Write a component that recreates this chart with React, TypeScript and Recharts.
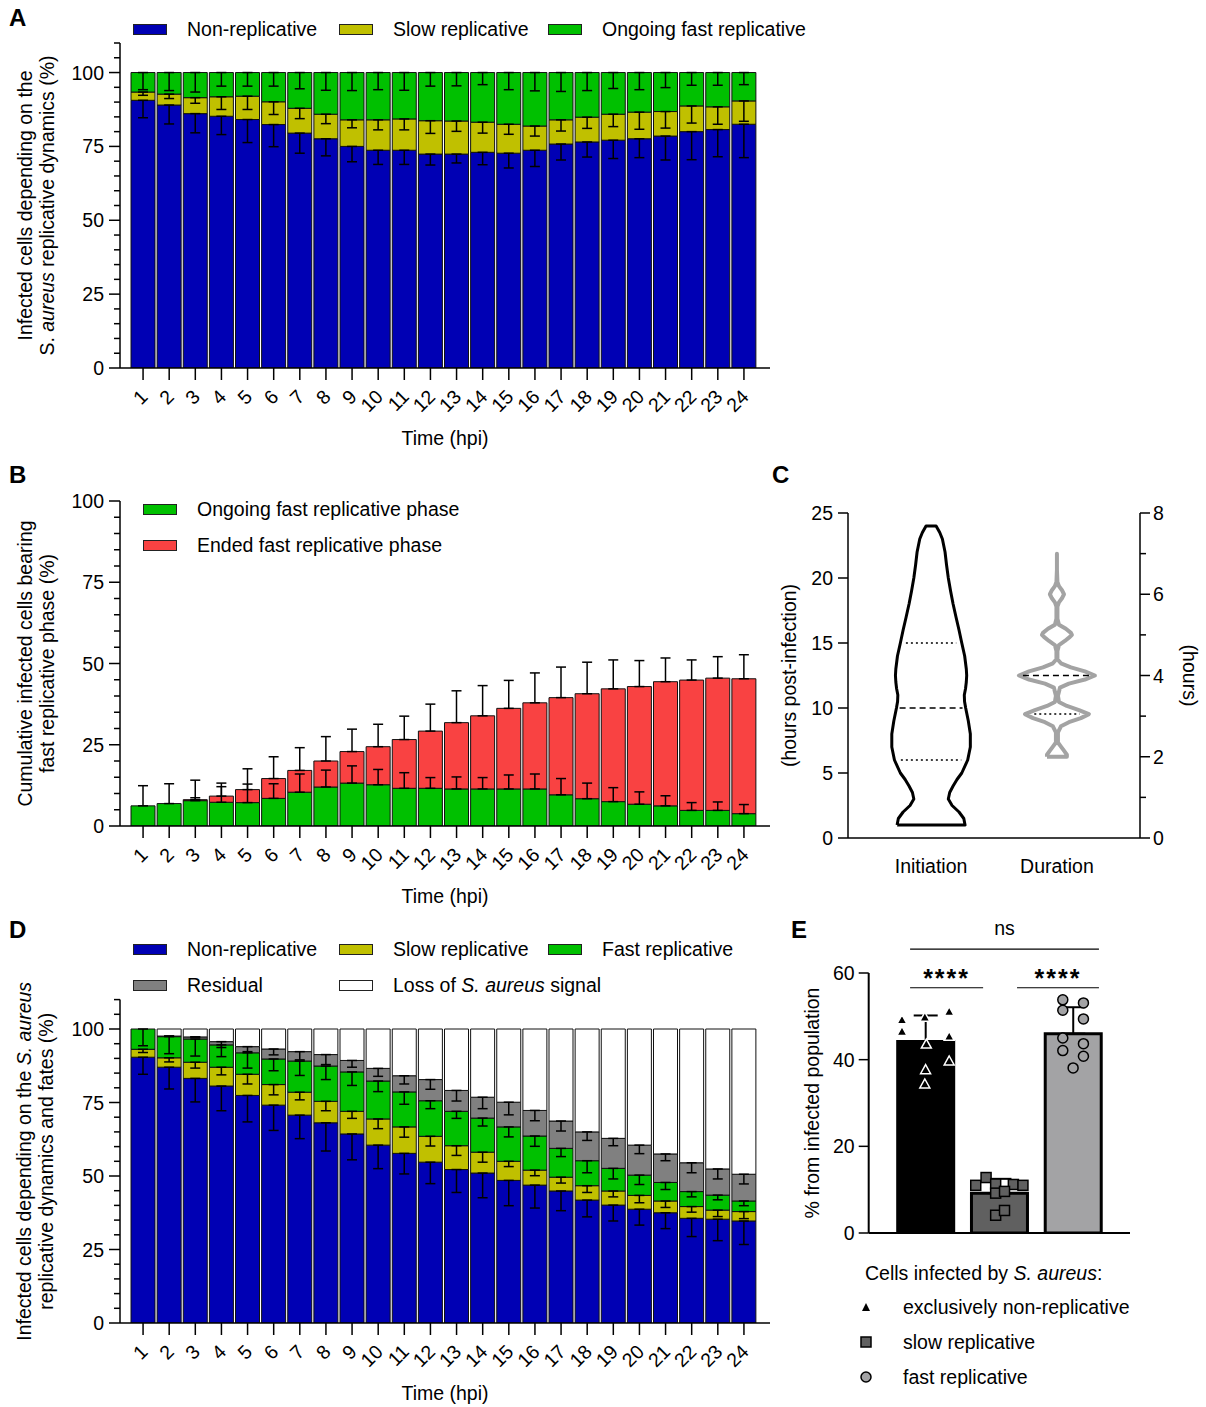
import React from "react";
import {
  BarChart,
  Bar,
  XAxis,
  YAxis,
  ErrorBar,
  ComposedChart,
  Scatter,
  ReferenceLine,
  Cell,
} from "recharts";

const FONT = '"Liberation Sans", Arial, Helvetica, sans-serif';
const FS = 19.5;
const BLUE = "#0000b4";
const YELLOW = "#c0c000";
const GREEN = "#00c000";
const RED = "#f94242";
const GRAY = "#808080";
const AXIS = { stroke: "#000", strokeWidth: 1.5 };

const HOURS = ["1", "2", "3", "4", "5", "6", "7", "8", "9", "10", "11", "12", "13", "14", "15", "16", "17", "18", "19", "20", "21", "22", "23", "24"];
const TICKS_110 = [0, 5, 10, 15, 20, 25, 30, 35, 40, 45, 50, 55, 60, 65, 70, 75, 80, 85, 90, 95, 100, 105, 110];
const TICKS_100 = [0, 5, 10, 15, 20, 25, 30, 35, 40, 45, 50, 55, 60, 65, 70, 75, 80, 85, 90, 95, 100];
const MAJOR_PCT = [0, 25, 50, 75, 100];

// A: replicative dynamics (%)
const A_NONREP = [90.6, 89.0, 86.1, 85.2, 84.1, 82.4, 79.5, 77.6, 75.0, 73.7, 73.7, 72.4, 72.4, 73.0, 72.7, 73.7, 75.8, 76.5, 77.1, 77.6, 78.5, 80.0, 80.7, 82.5];
const A_SLOW = [2.8, 3.7, 5.4, 6.6, 7.9, 7.7, 8.4, 8.3, 9.0, 10.3, 10.6, 11.3, 11.2, 10.2, 9.8, 8.2, 8.2, 8.4, 8.8, 9.0, 8.3, 8.7, 7.7, 7.9];
const A_FAST = [6.6, 7.3, 8.5, 8.2, 8.0, 9.9, 12.1, 14.1, 16.0, 16.0, 15.7, 16.3, 16.4, 16.8, 17.5, 18.1, 16.0, 15.1, 14.1, 13.4, 13.2, 11.3, 11.6, 9.6];
const A_NONREP_ERR = [5.9, 6.4, 6.5, 6.2, 7.8, 7.5, 6.8, 5.8, 5.2, 4.8, 4.8, 3.7, 3.0, 4.2, 5.0, 5.5, 5.4, 5.1, 6.2, 6.4, 8.1, 9.5, 9.2, 11.3];
const A_SLOW_ERR = [1.1, 1.5, 1.9, 4.3, 4.5, 4.3, 3.5, 3.2, 2.7, 3.4, 3.7, 4.3, 3.5, 3.7, 3.4, 3.4, 3.8, 3.8, 4.2, 5.8, 5.6, 5.8, 5.9, 6.9];
const A_FAST_ERR = [5.8, 6.1, 6.6, 4.6, 4.6, 4.6, 5.5, 6.0, 6.1, 5.8, 6.0, 4.6, 4.5, 4.1, 5.8, 6.2, 6.4, 6.1, 5.4, 5.8, 5.1, 4.3, 4.3, 4.1];

// B: cumulative fast replicative phase (%)
const B_ONGOING = [6.2, 6.9, 7.8, 7.3, 7.2, 8.5, 10.4, 12.0, 13.2, 12.7, 11.6, 11.6, 11.4, 11.4, 11.4, 11.4, 9.6, 8.4, 7.5, 6.7, 6.2, 4.8, 4.8, 3.8];
const B_ENDED = [0, 0, 0.3, 1.9, 4.0, 6.1, 6.7, 8.0, 9.7, 11.7, 15.0, 17.6, 20.4, 22.5, 24.8, 26.5, 29.9, 32.3, 34.7, 36.2, 38.2, 40.1, 40.7, 41.5];
const B_ONGOING_ERR = [6.2, 6.1, 6.3, 4.8, 5.7, 4.5, 5.6, 5.2, 5.3, 4.7, 4.8, 3.3, 3.7, 3.5, 4.3, 4.6, 5.0, 4.8, 4.3, 3.8, 3.1, 2.4, 2.6, 2.8];
const B_ENDED_ERR = [0, 0, 0.6, 4.0, 6.4, 6.7, 7.0, 7.5, 6.9, 6.9, 7.2, 8.3, 9.8, 9.3, 8.6, 9.2, 9.4, 9.7, 8.9, 8.0, 7.3, 6.2, 6.6, 7.4];

// C: violins (half-widths in category units)
const C_CATS = ["Initiation", "Duration"];
const C_LEFT_TICKS = [0, 5, 10, 15, 20, 25];
const C_RIGHT_TICKS = [0, 1, 2, 3, 4, 5, 6, 7, 8];
const C_RIGHT_MAJOR = [0, 2, 4, 6, 8];
const INIT_H = [1, 1.5, 2, 2.5, 3, 3.5, 4, 4.5, 5, 6, 7, 8, 9, 10, 10.5, 11, 11.5, 12, 12.5, 13, 14, 15, 16, 17, 18, 19, 20, 21, 22, 23, 23.5, 24];
const INIT_W = [0.27, 0.26, 0.222, 0.167, 0.137, 0.148, 0.175, 0.206, 0.244, 0.291, 0.312, 0.312, 0.296, 0.275, 0.266, 0.264, 0.274, 0.28, 0.283, 0.28, 0.267, 0.244, 0.222, 0.198, 0.175, 0.155, 0.137, 0.123, 0.111, 0.09, 0.069, 0.04];
const INIT_Q = [
  { h: 6, w: 0.24, dash: "2 3" },
  { h: 10, w: 0.25, dash: "6 4" },
  { h: 15, w: 0.2, dash: "2 3" },
];
const DUR_H = [2.0, 2.05, 2.15, 2.25, 2.35, 2.6, 2.75, 2.85, 2.95, 3.05, 3.15, 3.25, 3.35, 3.5, 3.7, 3.8, 3.9, 4.0, 4.1, 4.2, 4.3, 4.4, 4.6, 4.75, 4.85, 4.95, 5.0, 5.05, 5.15, 5.25, 5.4, 5.7, 5.8, 5.9, 6.0, 6.1, 6.2, 6.3, 6.6, 7.0];
const DUR_W = [0.079, 0.079, 0.056, 0.032, 0.008, 0.008, 0.032, 0.095, 0.19, 0.254, 0.175, 0.079, 0.016, 0.008, 0.024, 0.095, 0.222, 0.302, 0.222, 0.111, 0.032, 0.004, 0.004, 0.016, 0.063, 0.103, 0.119, 0.111, 0.071, 0.016, 0.004, 0.004, 0.016, 0.04, 0.056, 0.04, 0.016, 0.004, 0, 0];
const DUR_Q = [
  { h: 3.05, w: 0.18, dash: "2 3" },
  { h: 4.0, w: 0.27, dash: "6 4" },
];

// D: dynamics and fates (%)
const D_NONREP = [90.4, 87.0, 83.2, 80.6, 77.4, 74.1, 70.7, 68.1, 64.3, 60.5, 57.7, 54.7, 52.2, 51.0, 48.5, 46.9, 44.9, 41.8, 40.1, 38.7, 37.5, 35.6, 35.3, 34.7];
const D_SLOW = [2.7, 3.2, 5.5, 6.4, 7.2, 7.0, 7.8, 7.3, 7.7, 8.9, 9.0, 8.8, 8.1, 7.1, 6.5, 5.1, 4.7, 4.9, 4.8, 4.7, 4.0, 4.0, 3.1, 3.2];
const D_FAST = [6.9, 7.2, 7.9, 7.6, 7.3, 8.7, 10.6, 12.0, 13.4, 12.9, 11.9, 12.1, 11.7, 11.6, 11.7, 11.6, 9.8, 8.5, 7.7, 6.9, 6.3, 5.1, 5.1, 3.6];
const D_RESIDUAL = [0, 0.2, 0.7, 1.1, 2.1, 3.4, 3.2, 3.9, 3.9, 4.3, 5.5, 7.2, 7.1, 7.1, 8.4, 8.7, 9.3, 9.8, 10.2, 10.2, 9.7, 9.8, 8.9, 9.1];
const D_LOSS = [0, 2.4, 2.7, 4.3, 6.0, 6.8, 7.7, 8.7, 10.7, 13.4, 15.9, 17.2, 20.9, 23.2, 24.9, 27.7, 31.3, 35.0, 37.2, 39.5, 42.5, 45.5, 47.6, 49.4];
const D_NONREP_ERR = [5.8, 7.4, 8.0, 8.4, 9.0, 8.6, 8.0, 9.6, 8.8, 8.0, 7.0, 7.3, 7.8, 8.4, 8.6, 7.8, 6.7, 5.7, 5.4, 5.4, 5.4, 6.2, 7.3, 8.0];
const D_SLOW_ERR = [1.1, 1.4, 2.0, 2.6, 3.3, 3.5, 2.6, 3.2, 2.4, 3.3, 3.5, 3.3, 3.3, 3.4, 1.8, 1.9, 2.0, 2.3, 2.0, 2.5, 2.2, 1.9, 2.2, 2.4];
const D_FAST_ERR = [5.7, 5.8, 5.8, 4.0, 5.2, 4.0, 4.9, 4.6, 4.6, 3.6, 4.2, 2.7, 2.4, 2.7, 3.4, 3.5, 2.8, 4.1, 3.6, 3.2, 2.4, 1.8, 1.6, 1.6];
const D_RESIDUAL_ERR = [0, 0, 0, 2.0, 1.7, 2.0, 2.8, 3.4, 2.3, 2.7, 2.8, 3.3, 3.6, 3.9, 4.3, 3.5, 3.4, 2.9, 2.5, 2.9, 2.3, 3.4, 3.4, 3.3];

// E: % from infected population
const E_GROUPS = ["exclusively non-replicative", "slow replicative", "fast replicative"];
const E_MEANS = [44.2, 9.2, 46.0];
const E_SD = [6.0, 3.3, 6.1];
const E_FILLS = ["#000000", "#606060", "#a3a3a5"];
const E_TICKS = [0, 20, 40, 60];
const E_TRI_DX = [-0.32, -0.32, -0.01, 0.32, 0.32, 0.01, 0.0, -0.01, 0.32];
const E_TRI_Y = [49.2, 46.5, 49.8, 51.1, 45.4, 43.6, 37.7, 34.4, 39.7];
const E_SQ_DX = [-0.32, -0.18, -0.05, 0.19, 0.32, -0.05, 0.07, -0.05, 0.07];
const E_SQ_Y = [11.0, 12.8, 11.3, 11.2, 11.0, 9.2, 9.6, 4.1, 5.2];
const E_CIR_DX = [-0.14, 0.14, -0.14, 0.14, -0.14, 0.14, -0.14, 0.14, 0];
const E_CIR_Y = [53.8, 53.1, 51.4, 49.4, 45.0, 43.7, 42.1, 40.8, 38.1];

const ek = (k: string) => (d: any) => (d && d.payload ? d.payload : d)[k];
const txt = { fontFamily: FONT, fontSize: FS, fill: "#000" };

const YTick = (props: any) => {
  const { x, y, payload, majors, orientation, majorLen = 11, minorLen = 6, gap = 16 } = props;
  const v = payload.value;
  const isMajor = majors.includes(v);
  const dir = orientation === "right" ? 1 : -1;
  return (
    <g>
      <line x1={x} y1={y} x2={x + dir * (isMajor ? majorLen : minorLen)} y2={y} stroke="#000" strokeWidth={1.5} />
      {isMajor && (
        <text x={x + dir * gap} y={y} textAnchor={dir < 0 ? "end" : "start"} dominantBaseline="central" {...txt}>
          {v}
        </text>
      )}
    </g>
  );
};

const XTickRot = (props: any) => {
  const { x, y, payload } = props;
  const ax = x + 1;
  const ay = y + 25;
  return (
    <g>
      <line x1={x} y1={y} x2={x} y2={y + 12} stroke="#000" strokeWidth={1.5} />
      <text x={ax} y={ay} transform={`rotate(-45 ${ax} ${ay})`} textAnchor="end" dominantBaseline="central" {...txt}>
        {payload.value}
      </text>
    </g>
  );
};

const XTitle = (props: any) => {
  const vb = props.viewBox || {};
  return (
    <text x={vb.x + vb.width / 2} y={vb.y + 70} textAnchor="middle" dominantBaseline="central" {...txt}>
      {props.text}
    </text>
  );
};

// rotated (multi-line) axis title; "rot" because Label overrides "angle"
const YTitle = (props: any) => {
  const vb = props.viewBox || {};
  const cy = vb.y + vb.height / 2;
  const { cx, lines, rot = -90, gap = 22 } = props;
  const n = lines.length;
  return (
    <g transform={`rotate(${rot} ${cx} ${cy})`}>
      {lines.map((ln: any, i: number) => (
        <text key={i} x={cx} y={cy + (i - (n - 1) / 2) * gap} textAnchor="middle" dominantBaseline="central" {...txt}>
          {ln}
        </text>
      ))}
    </g>
  );
};

const noShape = () => <g />;

function LegendItem({ x, y, color, children }: any) {
  return (
    <>
      <div style={{ position: "absolute", left: x, top: y - 5.5, width: 34, height: 11, background: color, border: "1.5px solid #222", boxSizing: "border-box" }} />
      <div style={{ position: "absolute", left: x + 54, top: y - 12, lineHeight: "24px", fontSize: FS, whiteSpace: "nowrap" }}>{children}</div>
    </>
  );
}

function Letter({ x, y, children }: any) {
  return (
    <div style={{ position: "absolute", left: x, top: y, fontSize: 24, fontWeight: "bold", lineHeight: "26px" }}>{children}</div>
  );
}

function PanelA() {
  const rows = HOURS.map((t, i) => ({
    t,
    non: A_NONREP[i],
    slow: A_SLOW[i],
    fast: A_FAST[i],
    nonErr: [A_NONREP_ERR[i], 0],
    slowErr: [A_SLOW_ERR[i], 0],
    fastErr: [A_FAST_ERR[i], 0],
  }));
  const series = [
    { key: "non", fill: BLUE, err: "nonErr" },
    { key: "slow", fill: YELLOW, err: "slowErr" },
    { key: "fast", fill: GREEN, err: "fastErr" },
  ];
  return (
    <BarChart width={790} height={460} data={rows} margin={{ top: 43, right: 20, left: 60, bottom: 12 }} barCategoryGap={1}>
      <XAxis dataKey="t" interval={0} padding={{ left: 10, right: 13 }} height={80} tickSize={0} tickMargin={0} tickLine={false} tick={<XTickRot />} axisLine={AXIS} label={<XTitle text="Time (hpi)" />} />
      <YAxis width={60} type="number" domain={[0, 110]} ticks={TICKS_110} interval={0} allowDataOverflow tickSize={0} tickMargin={0} tickLine={false} tick={<YTick majors={MAJOR_PCT} />} axisLine={AXIS}
        label={<YTitle cx={35.5} lines={["Infected cells depending on the", <>S. <tspan fontStyle="italic">aureus</tspan> replicative dynamics (%)</>]} />} />
      {series.map((s) => (
        <Bar key={s.key} dataKey={s.key} stackId="s" fill={s.fill} stroke="#111" strokeWidth={1} isAnimationActive={false}>
          <ErrorBar dataKey={ek(s.err)} width={5} stroke="#000" strokeWidth={1.5} direction="y" isAnimationActive={false} />
        </Bar>
      ))}
    </BarChart>
  );
}

function PanelB() {
  const rows = HOURS.map((t, i) => ({
    t,
    ongoing: B_ONGOING[i],
    ended: B_ENDED[i],
    ongoingErr: [0, B_ONGOING_ERR[i]],
    endedErr: [0, B_ENDED_ERR[i]],
  }));
  return (
    <BarChart width={790} height={450} data={rows} margin={{ top: 41, right: 20, left: 60, bottom: 4 }} barSize={24} barGap={-24}>
      <XAxis dataKey="t" interval={0} padding={{ left: 10, right: 13 }} height={80} tickSize={0} tickMargin={0} tickLine={false} tick={<XTickRot />} axisLine={AXIS} label={<XTitle text="Time (hpi)" />} />
      <YAxis width={60} type="number" domain={[0, 100]} ticks={TICKS_100} interval={0} allowDataOverflow tickSize={0} tickMargin={0} tickLine={false} tick={<YTick majors={MAJOR_PCT} />} axisLine={AXIS}
        label={<YTitle cx={35.5} lines={["Cumulative infected cells bearing", "fast replicative phase (%)"]} />} />
      <Bar dataKey="ongoing" stackId="s" fill={GREEN} stroke="#111" strokeWidth={1} isAnimationActive={false} />
      <Bar dataKey="ended" stackId="s" fill={RED} stroke="#111" strokeWidth={1} isAnimationActive={false}>
        <ErrorBar dataKey={ek("endedErr")} width={5} stroke="#000" strokeWidth={1.5} direction="y" isAnimationActive={false} />
      </Bar>
      {/* transparent copy so the green error bars sit above the red bars */}
      <Bar dataKey="ongoing" stackId="o" fill="none" stroke="none" isAnimationActive={false}>
        <ErrorBar dataKey={ek("ongoingErr")} width={5} stroke="#000" strokeWidth={1.5} direction="y" isAnimationActive={false} />
      </Bar>
    </BarChart>
  );
}

function PanelD() {
  const rows = HOURS.map((t, i) => ({
    t,
    non: D_NONREP[i],
    slow: D_SLOW[i],
    fast: D_FAST[i],
    resid: D_RESIDUAL[i],
    loss: D_LOSS[i],
    nonErr: [D_NONREP_ERR[i], 0],
    slowErr: [D_SLOW_ERR[i], 0],
    fastErr: [D_FAST_ERR[i], 0],
    residErr: [D_RESIDUAL_ERR[i], 0],
  }));
  const series = [
    { key: "non", fill: BLUE, err: "nonErr" },
    { key: "slow", fill: YELLOW, err: "slowErr" },
    { key: "fast", fill: GREEN, err: "fastErr" },
    { key: "resid", fill: GRAY, err: "residErr" },
    { key: "loss", fill: "#ffffff", err: "" },
  ];
  return (
    <BarChart width={790} height={497} data={rows} margin={{ top: 89.6, right: 20, left: 60, bottom: 4 }} barCategoryGap={1}>
      <XAxis dataKey="t" interval={0} padding={{ left: 10, right: 13 }} height={80} tickSize={0} tickMargin={0} tickLine={false} tick={<XTickRot />} axisLine={AXIS} label={<XTitle text="Time (hpi)" />} />
      <YAxis width={60} type="number" domain={[0, 110]} ticks={TICKS_110} interval={0} allowDataOverflow tickSize={0} tickMargin={0} tickLine={false} tick={<YTick majors={MAJOR_PCT} />} axisLine={AXIS}
        label={<YTitle cx={35.5} lines={[<>Infected cells depending on the <tspan fontStyle="italic">S. aureus</tspan></>, "replicative dynamics and fates (%)"]} />} />
      {series.map((s) => (
        <Bar key={s.key} dataKey={s.key} stackId="s" fill={s.fill} stroke="#111" strokeWidth={1} isAnimationActive={false}>
          {s.err ? <ErrorBar dataKey={ek(s.err)} width={5} stroke="#000" strokeWidth={1.5} direction="y" isAnimationActive={false} /> : null}
        </Bar>
      ))}
    </BarChart>
  );
}

const violin = (hs: number[], ws: number[], cx: number) => {
  const left = hs.map((h, i) => ({ x: cx - ws[i], y: h }));
  const right = hs.map((h, i) => ({ x: cx + ws[i], y: h })).reverse();
  return [...left, ...right, left[0]];
};

const CTick = (props: any) => (
  <text x={props.x} y={props.y + 28} textAnchor="middle" dominantBaseline="central" {...txt}>
    {C_CATS[props.payload.value]}
  </text>
);

function PanelC() {
  const init = violin(INIT_H, INIT_W, 0);
  const dur = violin(DUR_H, DUR_W, 1);
  return (
    <ComposedChart width={436} height={450} margin={{ top: 53, right: 16, left: 28, bottom: 12 }}>
      <XAxis xAxisId="x" dataKey="x" type="number" domain={[-0.66, 1.66]} ticks={[0, 1]} allowDataOverflow height={60} tickSize={0} tickMargin={0} tickLine={false} tick={<CTick />} axisLine={AXIS} />
      <YAxis yAxisId="l" dataKey="y" type="number" domain={[0, 25]} ticks={C_LEFT_TICKS} interval={0} allowDataOverflow width={50} tickSize={0} tickMargin={0} tickLine={false}
        tick={<YTick majors={C_LEFT_TICKS} majorLen={10} gap={15} />} axisLine={AXIS} label={<YTitle cx={18.5} lines={["(hours post-infection)"]} />} />
      <YAxis yAxisId="r" orientation="right" dataKey="y" type="number" domain={[0, 8]} ticks={C_RIGHT_TICKS} interval={0} allowDataOverflow width={50} tickSize={0} tickMargin={0} tickLine={false}
        tick={<YTick majors={C_RIGHT_MAJOR} majorLen={10} gap={13} />} axisLine={AXIS} label={<YTitle cx={420} rot={90} lines={["(hours)"]} />} />
      <Scatter xAxisId="x" yAxisId="l" data={init} shape={noShape} line={{ stroke: "#000", strokeWidth: 3, strokeLinejoin: "round" }} isAnimationActive={false} />
      {INIT_Q.map((q, i) => (
        <Scatter key={"iq" + i} xAxisId="x" yAxisId="l" data={[{ x: -q.w, y: q.h }, { x: q.w, y: q.h }]} shape={noShape} line={{ stroke: "#000", strokeWidth: 1.5, strokeDasharray: q.dash }} isAnimationActive={false} />
      ))}
      <Scatter xAxisId="x" yAxisId="r" data={dur} shape={noShape} line={{ stroke: "#a3a3a3", strokeWidth: 4, strokeLinejoin: "round" }} isAnimationActive={false} />
      {DUR_Q.map((q, i) => (
        <Scatter key={"dq" + i} xAxisId="x" yAxisId="r" data={[{ x: 1 - q.w, y: q.h }, { x: 1 + q.w, y: q.h }]} shape={noShape} line={{ stroke: "#000", strokeWidth: 1.5, strokeDasharray: q.dash }} isAnimationActive={false} />
      ))}
    </ComposedChart>
  );
}

const Tri = (p: any) => {
  const { cx, cy } = p;
  const s = 5;
  return <polygon points={`${cx},${cy - s} ${cx - s},${cy + s * 0.8} ${cx + s},${cy + s * 0.8}`} fill="#000" stroke="#fff" strokeWidth={1.5} />;
};
const Sq = (p: any) => <rect x={p.cx - 5} y={p.cy - 5} width={10} height={10} fill="#606060" stroke="#000" strokeWidth={1.5} />;
const Circ = (p: any) => <circle cx={p.cx} cy={p.cy} r={5} fill="#a3a3a5" stroke="#000" strokeWidth={1.5} />;

function PanelE() {
  const bars = E_GROUPS.map((name, i) => ({ name, v: E_MEANS[i], err: [0, E_SD[i]] }));
  const tri = E_TRI_DX.map((dx, i) => ({ x: 0.5 + dx, y: E_TRI_Y[i] }));
  const sq = E_SQ_DX.map((dx, i) => ({ x: 1.5 + dx, y: E_SQ_Y[i] }));
  const cir = E_CIR_DX.map((dx, i) => ({ x: 2.5 + dx, y: E_CIR_Y[i] }));
  const sigLabel = (value: string, offset: number, star: boolean) => ({
    value,
    position: "top" as const,
    offset,
    fill: "#000",
    fontSize: star ? 25 : FS,
    fontWeight: star ? "bold" : "normal",
    fontFamily: FONT,
    letterSpacing: star ? 2 : 0,
  });
  return (
    <ComposedChart width={436} height={497} data={bars} margin={{ top: 63, right: 76, left: 38.7, bottom: 170 }}>
      <XAxis xAxisId="cat" dataKey="name" padding={{ left: 20, right: 20 }} height={4} tick={false} tickLine={false} axisLine={{ stroke: "#000", strokeWidth: 2 }} />
      <XAxis xAxisId="num" type="number" dataKey="x" domain={[0, 3]} padding={{ left: 20, right: 20 }} hide allowDataOverflow />
      <YAxis width={60} type="number" domain={[0, 60]} ticks={E_TICKS} interval={0} allowDataOverflow tickSize={0} tickMargin={0} tickLine={false}
        tick={<YTick majors={E_TICKS} majorLen={10} gap={14} />} axisLine={{ stroke: "#000", strokeWidth: 2 }}
        label={<YTitle cx={42} lines={["% from infected population"]} />} />
      <Bar xAxisId="cat" dataKey="v" barSize={56} stroke="#000" strokeWidth={3} isAnimationActive={false}>
        {bars.map((b, i) => (
          <Cell key={b.name} fill={E_FILLS[i]} />
        ))}
        <ErrorBar dataKey={ek("err")} width={12} stroke="#000" strokeWidth={2} direction="y" isAnimationActive={false} />
      </Bar>
      <Scatter xAxisId="num" dataKey="y" data={tri} shape={Tri} isAnimationActive={false} />
      <Scatter xAxisId="num" dataKey="y" data={sq} shape={Sq} isAnimationActive={false} />
      <Scatter xAxisId="num" dataKey="y" data={cir} shape={Circ} isAnimationActive={false} />
      <ReferenceLine xAxisId="num" segment={[{ x: 0.29, y: 56.6 }, { x: 1.28, y: 56.6 }]} ifOverflow="visible" stroke="#000" strokeWidth={1.2} label={sigLabel("****", 1, true)} />
      <ReferenceLine xAxisId="num" segment={[{ x: 1.74, y: 56.6 }, { x: 2.85, y: 56.6 }]} ifOverflow="visible" stroke="#000" strokeWidth={1.2} label={sigLabel("****", 1, true)} />
      <ReferenceLine xAxisId="num" segment={[{ x: 0.29, y: 65.5 }, { x: 2.85, y: 65.5 }]} ifOverflow="visible" stroke="#000" strokeWidth={1.2} label={sigLabel("ns", 14, false)} />
    </ComposedChart>
  );
}

const E_MARKERS = [
  <svg width={14} height={14} key="t"><polygon points="7,3 3,11 11,11" fill="#000" /></svg>,
  <svg width={14} height={14} key="s"><rect x={2} y={2} width={10} height={10} fill="#606060" stroke="#000" strokeWidth={1.5} /></svg>,
  <svg width={14} height={14} key="c"><circle cx={7} cy={7} r={5} fill="#a3a3a5" stroke="#000" strokeWidth={1.5} /></svg>,
];

export default function App() {
  const abs = (left: number, top: number): React.CSSProperties => ({ position: "absolute", left, top });
  return (
    <div style={{ position: "relative", width: 1206, height: 1407, background: "#fff", fontFamily: FONT, color: "#000", overflow: "hidden" }}>
      <style>{"body{margin:0}"}</style>

      <div style={abs(0, 0)}><PanelA /></div>
      <div style={abs(0, 460)}><PanelB /></div>
      <div style={abs(770, 460)}><PanelC /></div>
      <div style={abs(0, 910)}><PanelD /></div>
      <div style={abs(770, 910)}><PanelE /></div>

      <Letter x={9} y={5}>A</Letter>
      <Letter x={9} y={462}>B</Letter>
      <Letter x={772} y={462}>C</Letter>
      <Letter x={9} y={917}>D</Letter>
      <Letter x={791} y={917}>E</Letter>

      <LegendItem x={133} y={29} color={BLUE}>Non-replicative</LegendItem>
      <LegendItem x={339} y={29} color={YELLOW}>Slow replicative</LegendItem>
      <LegendItem x={548} y={29} color={GREEN}>Ongoing fast replicative</LegendItem>

      <LegendItem x={143} y={509} color={GREEN}>Ongoing fast replicative phase</LegendItem>
      <LegendItem x={143} y={545} color={RED}>Ended fast replicative phase</LegendItem>

      <LegendItem x={133} y={949} color={BLUE}>Non-replicative</LegendItem>
      <LegendItem x={339} y={949} color={YELLOW}>Slow replicative</LegendItem>
      <LegendItem x={548} y={949} color={GREEN}>Fast replicative</LegendItem>
      <LegendItem x={133} y={985} color={GRAY}>Residual</LegendItem>
      <LegendItem x={339} y={985} color="#ffffff">Loss of <i>S. aureus</i> signal</LegendItem>

      <div style={{ ...abs(865, 1261), fontSize: FS, lineHeight: "24px", whiteSpace: "nowrap" }}>
        Cells infected by <i>S. aureus</i>:
      </div>
      {E_GROUPS.map((g, i) => (
        <React.Fragment key={g}>
          <div style={abs(859, 1300 + i * 35)}>{E_MARKERS[i]}</div>
          <div style={{ ...abs(903, 1295 + i * 35), fontSize: FS, lineHeight: "24px", whiteSpace: "nowrap" }}>{g}</div>
        </React.Fragment>
      ))}
    </div>
  );
}
